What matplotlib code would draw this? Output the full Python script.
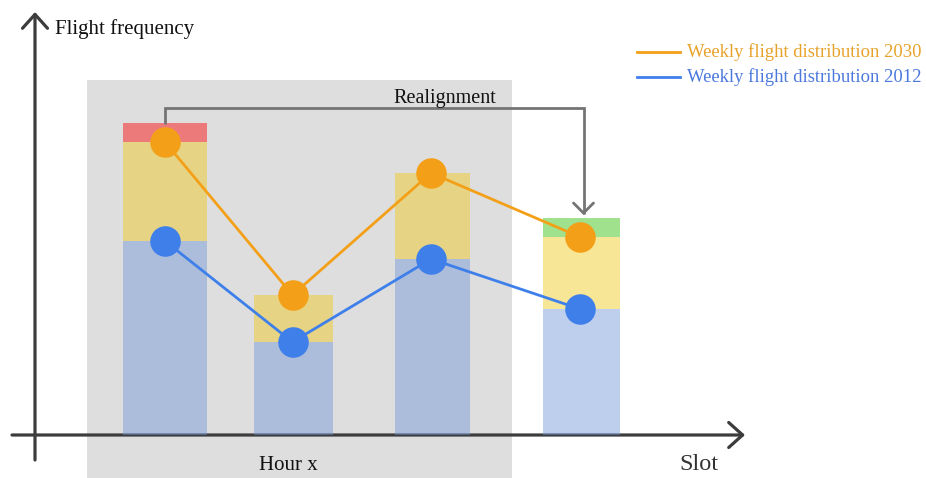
import matplotlib
matplotlib.use("Agg")
import matplotlib.pyplot as plt
from matplotlib.patches import Rectangle, FancyArrowPatch
from matplotlib.path import Path

# ---- data -------------------------------------------------------------
slots = ["s1", "s2", "s3", "s4"]
flights_2012 = [19.4, 9.3, 17.6, 12.6]      # weekly flights per slot, 2012
flights_2030 = [29.3, 14.0, 26.2, 19.8]     # weekly flights per slot, 2030
moved_out = [1.9, 0.0, 0.0, 0.0]            # flights shifted away from a slot
moved_in = [0.0, 0.0, 0.0, 1.9]             # flights shifted into a slot

legend_labels = ["Weekly flight distribution 2030", "Weekly flight distribution 2012"]
y_label = "Flight frequency"
x_label = "Slot"
hour_label = "Hour x"
shift_label = "Realignment"

# ---- layout -----------------------------------------------------------
slot_pos = [1.30, 2.585, 3.975, 5.465]
bar_w = [0.84, 0.79, 0.75, 0.77]
dot_pos = [1.30, 2.575, 3.96, 5.45]

ORANGE = "#F3A018"
BLUE = "#3F7FEA"
AXIS = "#3C3C3C"
SERIF = ["Liberation Serif", "DejaVu Serif"]

fig = plt.figure(figsize=(9.26, 4.78), dpi=100)
ax = fig.add_axes([0, 0, 1, 1])
ax.set_xlim(-0.35, 8.91)
ax.set_ylim(-4.3, 43.5)
ax.axis("off")

# shaded hour block
ax.add_patch(Rectangle((0.52, -5), 4.25, 35.5 + 5, facecolor="#DEDEDE",
                       edgecolor="none", zorder=0))

# axes arrows
arrow_kw = dict(arrowstyle="->,head_length=0.5,head_width=0.45",
                mutation_scale=20, color=AXIS, lw=2.3, zorder=1,
                shrinkA=0, shrinkB=0)
ax.add_patch(FancyArrowPatch((0, -2.5), (0, 42.3), **arrow_kw))
ax.add_patch(FancyArrowPatch((-0.23, 0), (7.10, 0), **arrow_kw))

# stacked slot bars
alpha = 0.45
ax.bar(slot_pos, flights_2012, width=bar_w, color="#7095DA", alpha=alpha,
       linewidth=0, zorder=2)
extra = [b - a for a, b in zip(flights_2012, flights_2030)]
ax.bar(slot_pos, extra, bottom=flights_2012, width=bar_w, color="#F0C818",
       alpha=alpha, linewidth=0, zorder=2)
ax.bar(slot_pos, moved_out, bottom=flights_2030, width=bar_w, color="#FF0000",
       alpha=alpha, linewidth=0, zorder=2)
ax.bar(slot_pos, moved_in, bottom=flights_2030, width=bar_w, color="#2EBD02",
       alpha=alpha, linewidth=0, zorder=2)

# realignment arrow from the overloaded slot to the receiving slot
top_src = flights_2030[0] + moved_out[0]
top_dst = flights_2030[3] + moved_in[3]
y_route = top_src + 1.5
route = Path([(dot_pos[0], top_src), (dot_pos[0], y_route),
              (slot_pos[3] + 0.02, y_route), (slot_pos[3] + 0.02, top_dst + 0.3)],
             [Path.MOVETO, Path.LINETO, Path.LINETO, Path.LINETO])
ax.add_patch(FancyArrowPatch(path=route,
                             arrowstyle="->,head_length=0.4,head_width=0.4",
                             mutation_scale=18, color="#747474", lw=2.0,
                             zorder=3, joinstyle="miter"))
ax.text(4.10, y_route + 0.95, shift_label, family=SERIF,
        fontsize=14.5, ha="center", va="center", color="#111111", zorder=4)

# series lines with markers
ax.plot(dot_pos, flights_2030, color=ORANGE, lw=2.0, marker="o",
        markersize=22, markeredgewidth=0, zorder=5)
ax.plot(dot_pos, flights_2012, color=BLUE, lw=2.0, marker="o",
        markersize=22, markeredgewidth=0, zorder=5)

# axis captions
ax.text(0.2, 40.6, y_label, family=SERIF, fontsize=15, ha="left",
        va="center", color="#111111")
ax.text(2.53, -3.0, hour_label, family=SERIF, fontsize=15, ha="center",
        va="center", color="#111111")
ax.text(6.64, -3.0, x_label, family=SERIF, fontsize=17.5, ha="center",
        va="center", color="#333333")

# legend
for y, lab, col, tcol in [(38.3, legend_labels[0], ORANGE, "#E8A22A"),
                          (35.8, legend_labels[1], BLUE, "#4A78DC")]:
    ax.plot([6.02, 6.45], [y, y], color=col, lw=2.0)
    ax.text(6.52, y, lab, family=SERIF, fontsize=13.4, ha="left",
            va="center", color=tcol)

fig.savefig("out.png", dpi=100)
